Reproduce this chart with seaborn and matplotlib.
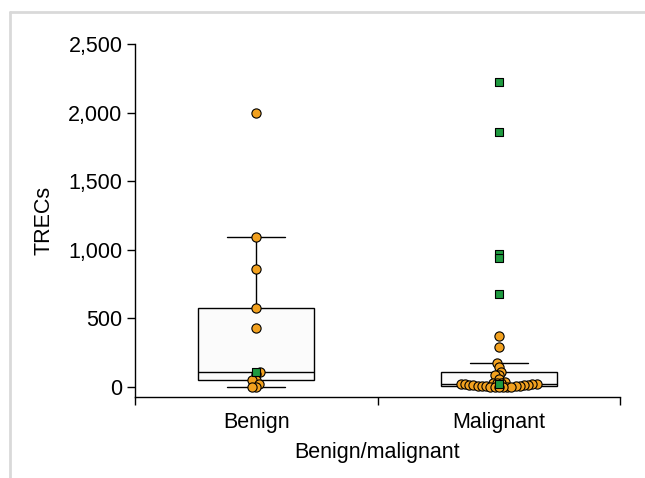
import numpy as np
import pandas as pd
import matplotlib
matplotlib.use("Agg")
import matplotlib.pyplot as plt
from matplotlib.lines import Line2D
from matplotlib.ticker import FuncFormatter, FixedLocator
import seaborn as sns

# ---------------- data ----------------
categories = ["Benign", "Malignant"]
benign_circles = [2000, 1095, 860, 578, 432, 109, 95, 51, 51, 22, 3, 3]
benign_squares = [107]
malignant_circles = [370, 295, 175, 148, 110, 87, 87, 56, 39, 30, 28, 27, 25, 24,
                     22, 20, 18, 16, 14, 12, 10, 8, 6, 5, 4, 3, 3, 2, 1, 1, 0]
malignant_squares = [2220, 1860, 970, 940, 680, 22]
y_ticks = [0, 500, 1000, 1500, 2000, 2500]
x_label = "Benign/malignant"
y_label = "TRECs"

orange = "#F2A11F"
green = "#1F9A40"

rows = []
for cat, circ, sq in [("Benign", benign_circles, benign_squares),
                      ("Malignant", malignant_circles, malignant_squares)]:
    rows += [(cat, v, "circle") for v in circ]
    rows += [(cat, v, "square") for v in sq]
df = pd.DataFrame(rows, columns=["group", "trecs", "kind"])

# ---------------- style ----------------
sns.set_style("ticks")
plt.rcParams["font.family"] = ["Liberation Sans", "DejaVu Sans"]
for k in ["text.color", "axes.labelcolor", "xtick.color", "ytick.color"]:
    plt.rcParams[k] = "black"
FS = 15.5

W, H = 645, 478
fig = plt.figure(figsize=(W / 100, H / 100), dpi=100)
ax = fig.add_axes([135 / W, 1 - 397 / H, 485 / W, 353 / H])

sns.boxplot(data=df, x="group", y="trecs", order=categories, width=0.48,
            showfliers=False, whis=1.5, linecolor="black", linewidth=1.0,
            boxprops=dict(facecolor="#fbfbfb"), ax=ax)

n_before = len(ax.collections)
sns.swarmplot(data=df[df["kind"] == "circle"], x="group", y="trecs", order=categories,
              color=orange, marker="o", size=2.6, edgecolor="black", linewidth=0.3,
              ax=ax, zorder=3)
n_circ = len(ax.collections)
sns.swarmplot(data=df[df["kind"] == "square"], x="group", y="trecs", order=categories,
              color=green, marker="s", size=2.6, edgecolor="black", linewidth=0.3,
              ax=ax, zorder=4)

ax.set_xlim(-0.5, 1.5)
ax.set_ylim(-73, 2500)
ax.set_yticks(y_ticks)
ax.yaxis.set_major_formatter(FuncFormatter(lambda v, p: f"{int(v):,}"))
ax.set_xticks([0, 1])
ax.set_xticklabels(categories)
ax.xaxis.set_minor_locator(FixedLocator([-0.5, 0.5, 1.5]))
ax.tick_params(axis="x", which="major", length=0, pad=11, labelsize=FS)
ax.tick_params(axis="x", which="minor", length=6, width=1.0, direction="out", color="black")
ax.tick_params(axis="y", length=6, width=1.0, direction="out", labelsize=FS, pad=3, color="black")
for s in ["top", "right"]:
    ax.spines[s].set_visible(False)
for s in ["left", "bottom"]:
    ax.spines[s].set_linewidth(1.0)
    ax.spines[s].set_color("black")
ax.set_xlabel(x_label, fontsize=FS, labelpad=6)
ax.set_ylabel(y_label, fontsize=FS, labelpad=10)

# compute the swarm with a small footprint, then freeze it and enlarge markers
fig.canvas.draw()
for i, c in enumerate(ax.collections[n_before:]):
    if "draw" in c.__dict__:
        del c.draw
    is_sq = (n_before + i) >= n_circ
    c.set_sizes([30.0 if is_sq else 44.0])
    c.set_linewidths([0.8])

# outer light-grey frame
fig.add_artist(Line2D([10 / W, 10 / W], [0, 1 - 12 / H], transform=fig.transFigure,
                      color="#d9d9d9", lw=2))
fig.add_artist(Line2D([10 / W, 1.01], [1 - 12 / H, 1 - 12 / H], transform=fig.transFigure,
                      color="#d9d9d9", lw=2))

fig.savefig("out.png", dpi=100)
